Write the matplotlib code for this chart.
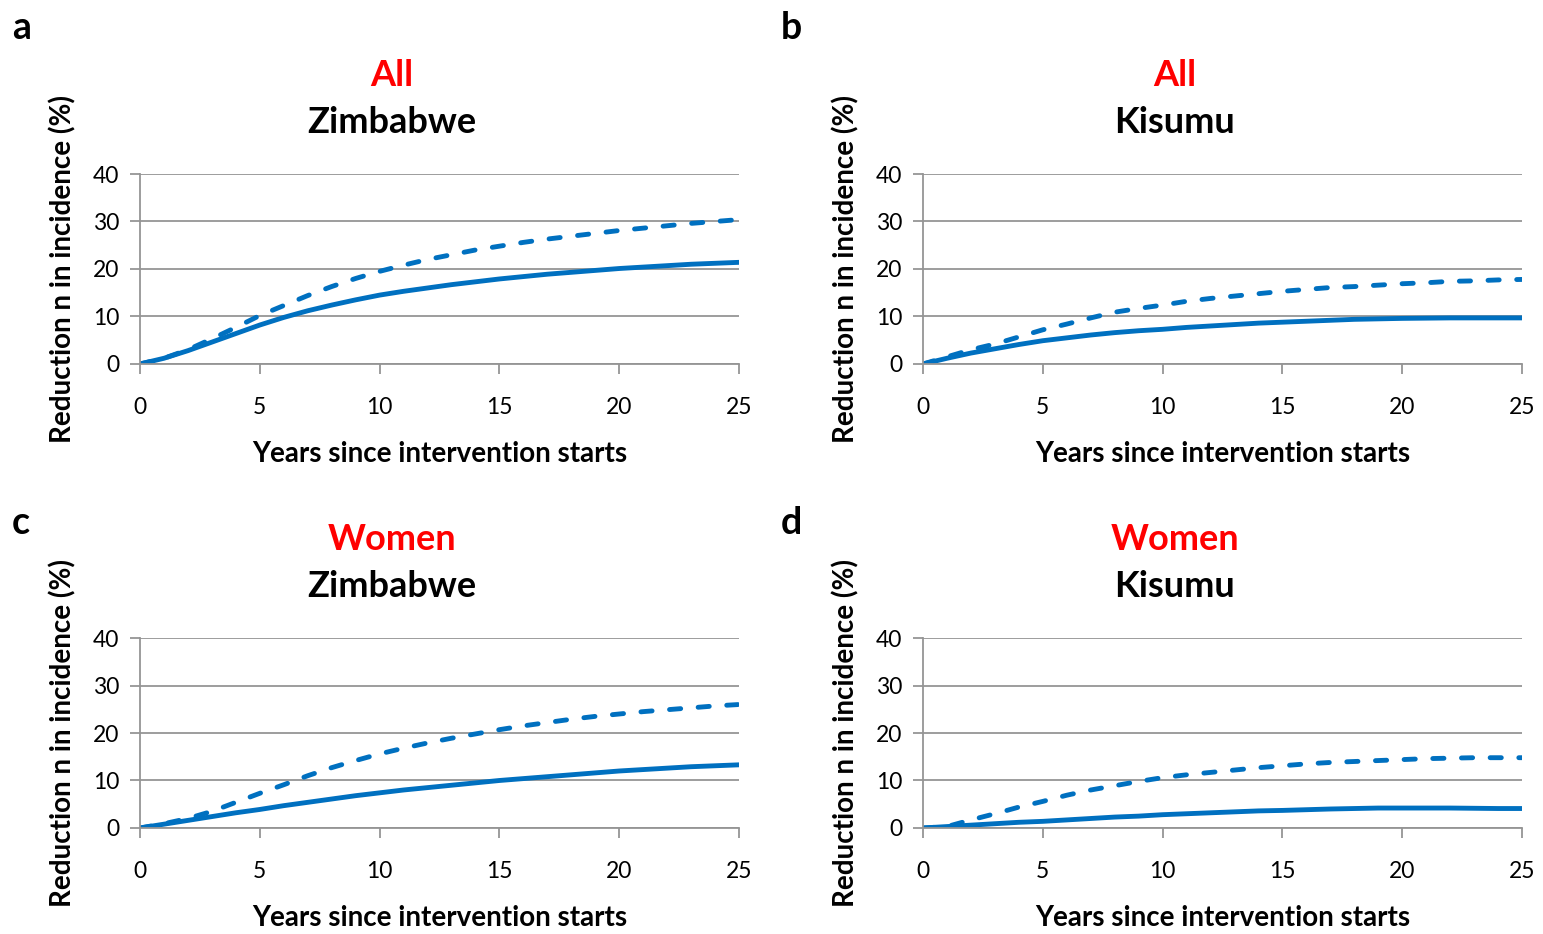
import matplotlib
matplotlib.use("Agg")
import matplotlib.pyplot as plt
import numpy as np

plt.rcParams['font.family'] = ['Lato', 'DejaVu Sans']

years = np.arange(0, 26)

# panel a: All, Zimbabwe
a_solid = [0, 1.2, 2.8, 4.6, 6.4, 8.2, 9.8, 11.2, 12.4, 13.5, 14.5, 15.3, 16.0,
           16.7, 17.3, 17.9, 18.4, 18.9, 19.3, 19.7, 20.1, 20.4, 20.7, 21.0, 21.2, 21.4]
a_dash = [0, 1.2, 3.0, 5.3, 7.7, 10.2, 12.3, 14.4, 16.3, 18.0, 19.5, 20.8, 22.0,
          23.0, 24.0, 24.8, 25.6, 26.3, 26.9, 27.5, 28.1, 28.6, 29.1, 29.6, 30.0, 30.4]
# panel b: All, Kisumu
b_solid = [0, 1.2, 2.3, 3.2, 4.1, 4.9, 5.5, 6.1, 6.6, 7.0, 7.3, 7.7, 8.0,
           8.3, 8.6, 8.8, 9.0, 9.2, 9.4, 9.5, 9.6, 9.65, 9.7, 9.7, 9.7, 9.7]
b_dash = [0, 1.5, 3.0, 4.2, 5.7, 7.2, 8.4, 9.7, 10.9, 11.7, 12.4, 13.2, 13.8,
          14.3, 14.8, 15.3, 15.7, 16.1, 16.3, 16.6, 16.9, 17.1, 17.4, 17.5, 17.7, 17.8]
# panel c: Women, Zimbabwe
c_solid = [0, 0.8, 1.6, 2.4, 3.2, 3.9, 4.7, 5.4, 6.1, 6.8, 7.4, 8.0, 8.5,
           9.0, 9.5, 10.0, 10.4, 10.8, 11.2, 11.6, 12.0, 12.3, 12.6, 12.9, 13.1, 13.3]
c_dash = [0, 0.9, 2.0, 3.5, 5.4, 7.3, 9.1, 11.0, 12.7, 14.2, 15.6, 16.8, 17.9,
          18.9, 19.8, 20.7, 21.5, 22.2, 22.9, 23.5, 24.0, 24.5, 24.9, 25.3, 25.7, 26.0]
# panel d: Women, Kisumu
d_solid = [0, 0.3, 0.6, 0.9, 1.2, 1.4, 1.7, 2.0, 2.3, 2.5, 2.8, 3.0, 3.2,
           3.4, 3.6, 3.7, 3.85, 4.0, 4.1, 4.2, 4.2, 4.2, 4.2, 4.15, 4.1, 4.1]
d_dash = [0, 0.3, 1.7, 3.0, 4.4, 5.6, 6.9, 8.0, 8.9, 9.8, 10.6, 11.2, 11.7,
          12.2, 12.7, 13.1, 13.5, 13.8, 14.0, 14.2, 14.4, 14.6, 14.7, 14.8, 14.8, 14.8]

letters = ['a', 'b', 'c', 'd']
groups = ['All', 'All', 'Women', 'Women']
places = ['Zimbabwe', 'Kisumu', 'Zimbabwe', 'Kisumu']
solids = [a_solid, b_solid, c_solid, d_solid]
dashes = [a_dash, b_dash, c_dash, d_dash]

blue = '#0070C0'
grey = '#959595'

fig = plt.figure(figsize=(15.43, 9.34), dpi=100)
positions = [(0.0907, 0.6103), (0.5982, 0.6103), (0.0907, 0.1135), (0.5982, 0.1135)]
letter_pos = [(0.0078, 0.970), (0.506, 0.970), (0.0078, 0.440), (0.506, 0.440)]

for i in range(4):
    ax = fig.add_axes([positions[i][0], positions[i][1], 0.3882, 0.2034])
    ax.plot(years, solids[i], color=blue, lw=3.5, solid_capstyle='round')
    ax.plot(years, dashes[i], color=blue, lw=3.5, dashes=(2.3, 3.6),
            dash_capstyle='round')
    ax.set_xlim(0, 25)
    ax.set_ylim(0, 40)
    ax.set_xticks([0, 5, 10, 15, 20, 25])
    ax.set_yticks([0, 10, 20, 30, 40])
    ax.grid(axis='y', color=grey, lw=1.3)
    ax.set_axisbelow(True)
    for s in ['top', 'right']:
        ax.spines[s].set_visible(False)
    for s in ['left', 'bottom']:
        ax.spines[s].set_color(grey)
        ax.spines[s].set_linewidth(1.3)
    ax.tick_params(axis='both', color=grey, width=1.3, length=7,
                   labelsize=16.5, pad=8)
    ax.tick_params(axis='x', pad=17)
    ax.set_xlabel('Years since intervention starts', fontsize=20,
                  fontweight='bold', labelpad=16)
    ax.set_ylabel('Reduction n in incidence (%)', fontsize=20,
                  fontweight='bold', labelpad=12)
    ax.text(0.42, 1.52, groups[i], transform=ax.transAxes, ha='center',
            va='center', color='red', fontsize=26, fontweight='bold')
    ax.text(0.42, 1.27, places[i], transform=ax.transAxes, ha='center',
            va='center', color='black', fontsize=26, fontweight='bold')
    fig.text(letter_pos[i][0], letter_pos[i][1], letters[i],
             fontsize=27, fontweight='bold', ha='left', va='center')

fig.savefig('out.png', dpi=100)
